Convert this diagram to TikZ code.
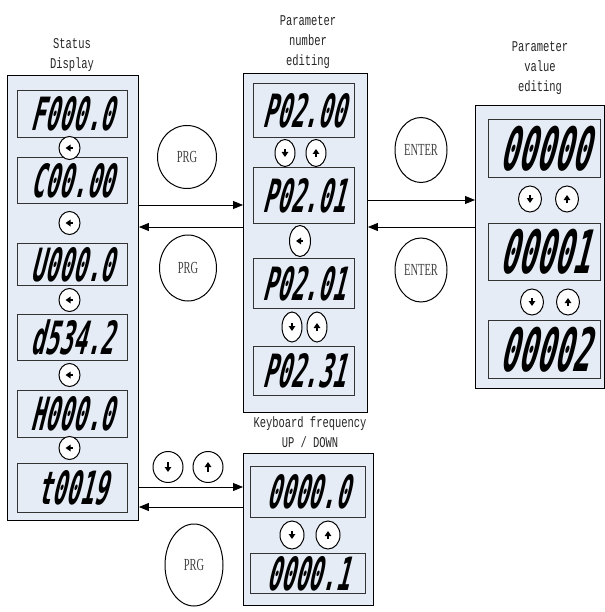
\documentclass[tikz,border=0pt]{standalone}
\usepackage{fontspec}
\usetikzlibrary{arrows.meta,shapes.geometric}
\newfontfamily\segfont[FakeStretch=0.5,FakeSlant=0.25]{DejaVu Sans Mono}
\newfontfamily\capfont[FakeStretch=0.7]{Liberation Mono}
\newfontfamily\keyfont[FakeStretch=0.62]{Liberation Serif}
\definecolor{panelbg}{RGB}{230,236,245}

\begin{document}
\begin{tikzpicture}[x=1bp, y=-1bp, thick,
  panel/.style={draw, fill=panelbg, line width=0.9bp, anchor=north west, inner sep=0pt},
  lcd/.style={draw=black!80, fill=panelbg, line width=0.7bp, anchor=north west, inner sep=0pt,
    font=\segfont\bfseries\fontsize{46}{46}\selectfont},
  key/.style={draw, ellipse, fill=white, line width=1bp, inner sep=0pt},
  bigkey/.style={draw, ellipse, line width=1bp, inner sep=0pt, text=black!75,
    font=\keyfont\fontsize{17}{17}\selectfont},
  caption/.style={align=center, text=black!85, font=\capfont\fontsize{15}{20.5}\selectfont},
  glyph/.style={-{Triangle[length=5bp,width=6.5bp]}, line width=2.2bp},
  flow/.style={-{Triangle[length=10bp,width=8bp]}, line width=0.8bp}]
\useasboundingbox (0,0) rectangle (605,612);
%Status display
\node[panel, minimum width=131bp, minimum height=445bp] (status) at (7,75) {};
\node[caption] (statuscap) at (72,55) {Status\\Display};
\node[lcd, minimum width=110bp, minimum height=47bp] (s1) at (17,90) {F000.0};
\node[lcd, minimum width=110bp, minimum height=46bp] (s2) at (17,157) {C00.00};
\node[lcd, minimum width=110bp, minimum height=42bp] (s3) at (17,243) {U000.0};
\node[lcd, minimum width=110bp, minimum height=46bp] (s4) at (17,314) {d534.2};
\node[lcd, minimum width=110bp, minimum height=47bp] (s5) at (17,390) {H000.0};
\node[lcd, minimum width=110bp, minimum height=49bp] (s6) at (17,463) {t0019};
\node[key, minimum width=21bp, minimum height=23bp] (sk1) at (69.5,148) {};
\node[key, minimum width=21bp, minimum height=23bp] (sk2) at (69.5,223) {};
\node[key, minimum width=21bp, minimum height=23bp] (sk3) at (69.5,300) {};
\node[key, minimum width=21bp, minimum height=23bp] (sk4) at (69.5,375) {};
\node[key, minimum width=21bp, minimum height=23bp] (sk5) at (69.5,448) {};
\draw[glyph] ([xshift=3bp]sk1.center) -- ([xshift=-4bp]sk1.center);
\draw[glyph] ([xshift=3bp]sk2.center) -- ([xshift=-4bp]sk2.center);
\draw[glyph] ([xshift=3bp]sk3.center) -- ([xshift=-4bp]sk3.center);
\draw[glyph] ([xshift=3bp]sk4.center) -- ([xshift=-4bp]sk4.center);
\draw[glyph] ([xshift=3bp]sk5.center) -- ([xshift=-4bp]sk5.center);
%Parameter number editing
\node[panel, minimum width=124bp, minimum height=339bp] (param) at (243,73) {};
\node[caption] (paramcap) at (308,42) {Parameter\\number\\editing};
\node[lcd, minimum width=101bp, minimum height=54bp] (p1) at (253,83) {P02.00};
\node[lcd, minimum width=101bp, minimum height=56bp] (p2) at (253,167) {P02.01};
\node[lcd, minimum width=101bp, minimum height=50bp] (p3) at (253,258) {P02.01};
\node[lcd, minimum width=101bp, minimum height=49bp] (p4) at (253,346) {P02.31};
\node[key, minimum width=20bp, minimum height=27bp] (pk1) at (285,153) {};
\node[key, minimum width=20bp, minimum height=27bp] (pk2) at (316,153) {};
\node[key, minimum width=21bp, minimum height=31bp] (pk3) at (300,241) {};
\node[key, minimum width=20bp, minimum height=30bp] (pk4) at (292,327) {};
\node[key, minimum width=20bp, minimum height=30bp] (pk5) at (317,327) {};
\draw[glyph] ([yshift=4bp]pk1.center) -- ([yshift=-4bp]pk1.center);
\draw[glyph] ([yshift=-4bp]pk2.center) -- ([yshift=4bp]pk2.center);
\draw[glyph] ([xshift=3bp]pk3.center) -- ([xshift=-4bp]pk3.center);
\draw[glyph] ([yshift=4bp]pk4.center) -- ([yshift=-4bp]pk4.center);
\draw[glyph] ([yshift=-4bp]pk5.center) -- ([yshift=4bp]pk5.center);
%Parameter value editing
\node[panel, minimum width=129bp, minimum height=283bp] (value) at (475,105) {};
\node[caption] (valuecap) at (540,68) {Parameter\\value\\editing};
\node[lcd, minimum width=112bp, minimum height=58bp, font=\segfont\bfseries\fontsize{60}{60}\selectfont] (v1) at (488,119) {00000};
\node[lcd, minimum width=112bp, minimum height=57bp, font=\segfont\bfseries\fontsize{60}{60}\selectfont] (v2) at (488,223) {00001};
\node[lcd, minimum width=112bp, minimum height=58bp, font=\segfont\bfseries\fontsize{60}{60}\selectfont] (v3) at (488,320) {00002};
\node[key, minimum width=23bp, minimum height=26bp] (vk1) at (530,199) {};
\node[key, minimum width=23bp, minimum height=26bp] (vk2) at (567,199) {};
\node[key, minimum width=23bp, minimum height=26bp] (vk3) at (532,302) {};
\node[key, minimum width=23bp, minimum height=26bp] (vk4) at (568,302) {};
\draw[glyph] ([yshift=4bp]vk1.center) -- ([yshift=-4bp]vk1.center);
\draw[glyph] ([yshift=-4bp]vk2.center) -- ([yshift=4bp]vk2.center);
\draw[glyph] ([yshift=4bp]vk3.center) -- ([yshift=-4bp]vk3.center);
\draw[glyph] ([yshift=-4bp]vk4.center) -- ([yshift=4bp]vk4.center);
%Keyboard frequency
\node[panel, minimum width=130bp, minimum height=152bp] (keyfreq) at (243,453) {};
\node[caption] (keyfreqcap) at (310,432) {Keyboard frequency\\UP / DOWN};
\node[lcd, minimum width=115bp, minimum height=51bp] (f1) at (250,466) {0000.0};
\node[lcd, minimum width=115bp, minimum height=40bp] (f2) at (250,553) {0000.1};
\node[key, minimum width=24bp, minimum height=28bp] (fk1) at (292,535) {};
\node[key, minimum width=24bp, minimum height=28bp] (fk2) at (328,535) {};
\draw[glyph] ([yshift=4bp]fk1.center) -- ([yshift=-4bp]fk1.center);
\draw[glyph] ([yshift=-4bp]fk2.center) -- ([yshift=4bp]fk2.center);
%Keys between panels
\node[bigkey, minimum width=59bp, minimum height=63bp] (prgA) at (187,157) {PRG};
\node[bigkey, minimum width=57bp, minimum height=66bp] (prgB) at (188,268) {PRG};
\node[bigkey, minimum width=52bp, minimum height=65bp] (enterA) at (421,150) {ENTER};
\node[bigkey, minimum width=52bp, minimum height=64bp] (enterB) at (421,270) {ENTER};
\node[bigkey, minimum width=58bp, minimum height=82bp] (prgC) at (194,565) {PRG};
\node[key, minimum width=30bp, minimum height=31bp] (down) at (168,467) {};
\node[key, minimum width=30bp, minimum height=31bp] (up) at (208,467) {};
\draw[glyph] ([yshift=5bp]down.center) -- ([yshift=-5bp]down.center);
\draw[glyph] ([yshift=-5bp]up.center) -- ([yshift=5bp]up.center);
%Connectors
\draw[flow] (status.east |- 0,205) -- (param.west |- 0,205);
\draw[flow] (param.west |- 0,227) -- (status.east |- 0,227);
\draw[flow] (param.east |- 0,200) -- (value.west |- 0,200);
\draw[flow] (value.west |- 0,227) -- (param.east |- 0,227);
\draw[flow] (status.east |- 0,487) -- (keyfreq.west |- 0,487);
\draw[flow] (keyfreq.west |- 0,507) -- (status.east |- 0,507);
\end{tikzpicture}
\end{document}
